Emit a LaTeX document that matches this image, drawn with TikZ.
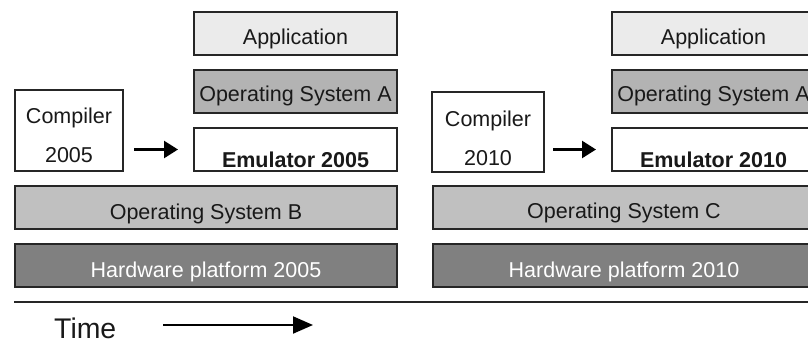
\documentclass[tikz,border=0pt]{standalone}
\usepackage{fontspec}
\setmainfont{Liberation Sans}
\usetikzlibrary{arrows.meta}
\definecolor{appfill}{HTML}{EBEBEB}
\definecolor{osafill}{HTML}{B3B3B3}
\definecolor{osbfill}{HTML}{C0C0C0}
\definecolor{hwfill}{HTML}{808080}
\begin{document}
\begin{tikzpicture}[x=1pt,y=-1pt,
  layer/.style={draw=black!85, line width=2pt, rectangle, inner sep=0pt,
    minimum height=43pt, text height=21.5pt, text depth=0pt,
    font=\fontsize{21.5}{24}\selectfont, text=black!90},
  emubox/.style={layer, fill=white, minimum width=203pt, text height=36pt,
    font=\fontsize{21.5}{24}\selectfont\bfseries},
  txt/.style={inner sep=0pt, font=\fontsize{21.5}{39}\selectfont, align=center, text=black!90},
  conn/.style={line width=2.5pt, -{Triangle[length=14pt,width=17pt]}},
  timearrow/.style={line width=2pt, -{Triangle[length=20pt,width=17pt]}}
]
\useasboundingbox (0,0) rectangle (808,343);
\clip (0,0) rectangle (808,343);

% left group (2005)
\node[layer, fill=appfill, minimum width=203pt] (app1) at (295.5,33.5) {Application};
\node[layer, fill=osafill, minimum width=203pt, text height=19.5pt] (osa1) at (295.5,91.5) {Operating System A};
\node[emubox] (emu1) at (295.5,149.5) {Emulator 2005};
\node[layer, fill=white, minimum width=108pt, minimum height=81pt] (comp1) at (69,130.5) {};
\node[txt] (comp1t) at (69,135.5) {Compiler\\2005};
\node[layer, fill=osbfill, minimum width=382pt, text height=23pt] (osb1) at (206,207.5) {Operating System B};
\node[layer, fill=hwfill, minimum width=382pt, text height=23pt, text=white] (hw1) at (206,265.5) {Hardware platform 2005};
\draw[conn, shorten <=10pt, shorten >=15pt] (comp1.east |- emu1.west) -- (emu1.west);

% right group (2010)
\node[layer, fill=appfill, minimum width=203pt] (app2) at (713.5,33.5) {Application};
\node[layer, fill=osafill, minimum width=203pt, text height=19.5pt] (osa2) at (713.5,91.5) {Operating System A};
\node[emubox] (emu2) at (713.5,149.5) {Emulator 2010};
\node[layer, fill=white, minimum width=112pt, minimum height=80pt] (comp2) at (488,132) {};
\node[txt] (comp2t) at (488,138) {Compiler\\2010};
\node[layer, fill=osbfill, minimum width=382pt, text height=22pt] (osc2) at (624,207.5) {Operating System C};
\node[layer, fill=hwfill, minimum width=382pt, text height=23pt, text=white] (hw2) at (624,265.5) {Hardware platform 2010};
\draw[conn, shorten <=8pt, shorten >=15pt] (comp2.east |- emu2.west) -- (emu2.west);

% time axis
\coordinate (l0) at (14,302);
\coordinate (l1) at (812,302);
\draw[line width=2pt, draw=black!85] (l0) -- (l1);
\node[inner sep=0pt, anchor=base west, font=\fontsize{28.4}{30}\selectfont, text=black!90] (time) at (54,338) {Time};
\coordinate (ts) at (163,325);
\coordinate (te) at (313,325);
\draw[timearrow] (ts) -- (te);
\end{tikzpicture}
\end{document}
